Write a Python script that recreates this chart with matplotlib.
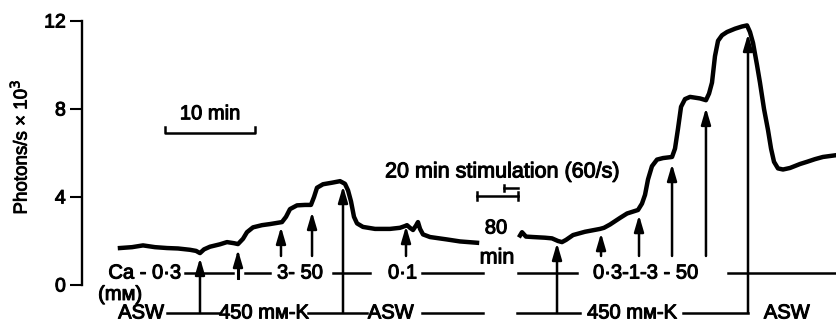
import matplotlib
matplotlib.use("Agg")
import matplotlib.pyplot as plt
import matplotlib.patheffects as pe

plt.rcParams['font.family'] = ['Liberation Sans', 'DejaVu Sans']

# ---- data (time in min along the drawn record, photons/s x 10^3) ----
left_t = [4.22, 5.56, 6.78, 8.11, 9.44, 10.67, 12.0, 12.67, 13.11, 13.56, 14.22, 15.33,
          16.11, 16.89, 17.33, 17.89, 18.33, 19.0, 20.0, 20.89, 22.22, 22.67, 23.11,
          23.89, 24.78, 25.44, 25.78, 26.11, 26.78, 27.78, 28.67, 29.22, 29.56, 29.89,
          30.22, 30.56, 31.22, 32.56, 34.22, 35.33, 35.89, 36.11, 36.44, 36.78, 37.11,
          37.33, 37.56, 37.89, 38.67, 40.56, 42.0, 43.89]
left_v = [1.68, 1.72, 1.80, 1.72, 1.68, 1.66, 1.60, 1.55, 1.45, 1.62, 1.74, 1.85,
          1.95, 1.90, 1.86, 2.10, 2.40, 2.62, 2.72, 2.77, 2.86, 3.10, 3.45,
          3.62, 3.64, 3.64, 4.00, 4.42, 4.58, 4.65, 4.72, 4.60, 4.30, 3.80,
          3.10, 2.80, 2.64, 2.55, 2.55, 2.60, 2.68, 2.72, 2.60, 2.50, 2.70,
          2.86, 2.55, 2.30, 2.18, 2.07, 1.98, 1.92]
right_t = [48.67, 48.89, 49.33, 50.11, 51.44, 52.22, 52.89, 53.33, 53.78, 54.56, 55.89,
           57.56, 58.0, 58.67, 59.78, 60.56, 61.78, 62.22, 62.56, 62.89, 63.33, 63.89,
           64.56, 65.56, 65.89, 66.22, 66.56, 67.0, 67.56, 68.67, 69.33, 69.67, 70.0,
           70.33, 70.67, 71.11, 71.67, 72.56, 73.33, 73.89, 74.22, 74.56, 75.0, 75.33,
           75.78, 76.22, 76.56, 76.89, 77.33, 77.89, 78.67, 79.78, 80.56, 81.44, 82.33, 83.78]
right_v = [2.25, 2.40, 2.20, 2.18, 2.15, 2.12, 2.00, 1.95, 2.05, 2.27, 2.42,
           2.55, 2.60, 2.75, 3.05, 3.25, 3.41, 3.70, 4.10, 4.80, 5.40, 5.70,
           5.77, 5.82, 6.20, 7.10, 8.10, 8.45, 8.55, 8.48, 8.40, 8.70, 9.20,
           10.40, 11.10, 11.35, 11.50, 11.65, 11.75, 11.80, 11.50, 11.00, 10.00, 9.20,
           8.00, 7.05, 6.20, 5.60, 5.30, 5.25, 5.32, 5.50, 5.60, 5.72, 5.82, 5.90]

y_ticks = [0, 4, 8, 12]
y_label = "Photons/s \u00d7 10$^3$"

# arrows: (time, tip value, base value)
arrow_t = [13.11, 17.33, 22.11, 25.56, 29.0, 36.0, 52.78, 57.67, 61.89, 65.56, 69.33, 74.0]
arrow_tip = [1.23, 1.59, 2.64, 3.32, 4.50, 2.68, 1.91, 2.36, 3.18, 5.50, 8.05, 11.41]
arrow_base = [-1.27, 1.23, 1.32, 1.32, -1.27, 1.32, -1.27, 1.32, 1.32, 1.32, 1.32, -1.27]

ca_row = 0.545
asw_row = -1.27
ca_segments = [(11.44, 16.78), (18.11, 20.89), (27.89, 32.0), (37.78, 44.56),
               (48.44, 55.0), (71.78, 83.78)]
asw_segments = [(9.44, 15.33), (25.11, 31.67), (37.78, 44.56), (48.33, 55.33), (66.78, 74.0)]

FS = 14.5
HEAVY = [pe.withStroke(linewidth=0.75, foreground='black')]

fig = plt.figure(figsize=(8.36, 3.25), dpi=100)
ax = fig.add_axes([82 / 836, 0, 754 / 836, 1])
ax.set_xlim(0, 754 / 9)
ax.set_ylim(-40 / 22, 285 / 22)

for s in ['top', 'right', 'bottom']:
    ax.spines[s].set_visible(False)
ax.spines['left'].set_bounds(0, 12)
ax.spines['left'].set_linewidth(1.7)
ax.set_xticks([])
ax.set_yticks(y_ticks)
ax.set_yticklabels([str(v) for v in y_ticks], fontsize=14)
for lab in ax.get_yticklabels():
    lab.set_path_effects(HEAVY)
ax.tick_params(axis='y', length=8.6, width=1.5, pad=3)

fig.text(20 / 836, 1 - 147 / 325, y_label, rotation=90, ha='center', va='center',
         fontsize=13.5, path_effects=[pe.withStroke(linewidth=0.6, foreground='black')])

# traces
ax.plot(left_t, left_v, color='black', lw=3.2, solid_joinstyle='round')
ax.plot(right_t, right_v, color='black', lw=3.2, solid_joinstyle='round')

# arrows
for t, tip, base in zip(arrow_t, arrow_tip, arrow_base):
    ax.annotate('', xy=(t, tip), xytext=(t, base),
                arrowprops=dict(arrowstyle='-|>,head_length=0.75,head_width=0.22', lw=1.8,
                                color='black', mutation_scale=13, shrinkA=0, shrinkB=0))

# rows of solution lines
for a, b in ca_segments:
    ax.plot([a, b], [ca_row, ca_row], color='black', lw=1.8)
for a, b in asw_segments:
    ax.plot([a, b], [asw_row, asw_row], color='black', lw=1.8)

def label(x, y, s, ha='center', va='center', size=FS):
    ax.text(x, y, s, ha=ha, va=va, fontsize=size, path_effects=HEAVY)

# Ca row labels
label(11.0, ca_row, "Ca - 0\u00b73", ha='right')
label(17.33, ca_row, "I")
label(21.67, ca_row, "3- 50", ha='left')
label(34.0, ca_row, "0\u00b71", ha='left')
label(56.78, ca_row, "0\u00b73-1-3 - 50", ha='left')
label(4.22, -0.43, "(m\u1d0d)")

# ASW row labels
label(6.56, asw_row, "ASW")
label(20.2, asw_row, "450 m\u1d0d-K")
label(34.3, asw_row, "ASW")
label(61.1, asw_row, "450 m\u1d0d-K")
label(78.3, asw_row, "ASW")

# 10 min scale bar
ax.plot([9.22, 9.22, 19.22, 19.22], [7.18, 6.91, 6.91, 7.18], color='black', lw=1.8)
label(14.22, 7.35, "10 min", va='bottom')

# stimulation bars
ax.plot([43.89, 48.44], [4.05, 4.05], color='black', lw=1.8)
ax.plot([43.89, 43.89], [3.87, 4.23], color='black', lw=1.8)
ax.plot([48.44, 48.44], [3.87, 4.23], color='black', lw=1.8)
ax.plot([46.89, 48.44], [4.41, 4.41], color='black', lw=1.8)
ax.plot([46.89, 46.89], [4.27, 4.55], color='black', lw=1.8)
label(33.67, 5.14, "20 min stimulation (60/s)", ha='left', size=15.5)
label(46.0, 2.59, "80")
label(46.1, 1.23, "min", size=15.5)

fig.savefig("out.png", dpi=100)
